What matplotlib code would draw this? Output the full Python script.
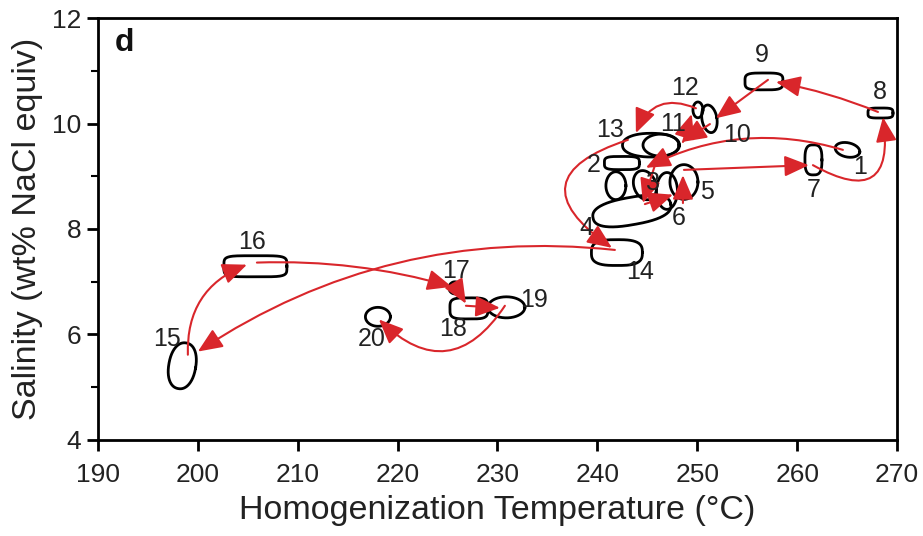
import numpy as np
import matplotlib
matplotlib.use("Agg")
import matplotlib.pyplot as plt
from matplotlib.patches import FancyArrowPatch, ArrowStyle

plt.rcParams['font.family'] = ['Liberation Sans', 'DejaVu Sans']

# ---- data: fluid-inclusion assemblage fields (centre T, centre salinity, width, height, tilt, squareness)
blob_labels = ["1", "2", "", "3", "4", "5", "6", "7", "8", "9", "10", "11", "12", "13",
               "14", "15", "16", "17", "18", "19", "20"]
blob_x = [265.03, 242.45, 241.85, 244.75, 243.45, 248.66, 246.96, 261.62, 268.33, 256.67,
          251.21, 246.36, 250.06, 245.36, 241.95, 198.45, 205.77, 225.74, 227.14, 230.89, 218.03]
blob_y = [9.50, 9.25, 8.82, 8.83, 8.34, 8.89, 8.72, 9.31, 10.20, 10.80,
          10.09, 9.59, 10.26, 9.59, 7.55, 5.40, 7.29, 6.88, 6.49, 6.51, 6.33]
blob_w = [2.5, 3.5, 2.0, 2.2, 7.9, 2.8, 2.1, 1.7, 2.5, 3.8,
          1.5, 3.6, 1.0, 5.7, 5.1, 2.7, 6.3, 1.2, 3.8, 3.7, 2.5]
blob_h = [0.27, 0.25, 0.53, 0.57, 0.52, 0.66, 0.70, 0.57, 0.19, 0.32,
          0.53, 0.42, 0.30, 0.45, 0.49, 0.88, 0.40, 0.23, 0.40, 0.40, 0.36]
blob_tilt = [-12, 0, 0, 20, 10, 0, 0, 0, 0, 0, 10, 0, 0, 0, 0, -10, 0, 0, 0, 0, 0]
blob_sq = [2, 4, 2, 2, 2.5, 2, 2, 3, 4, 4, 2, 2, 2, 2.2, 3, 2.2, 5, 2, 4, 2, 2]

# label positions of each field number
label_text = [str(i) for i in range(1, 21)]
label_x = [266.3, 239.65, 245.56, 238.85, 250.96, 248.16, 261.6, 268.3, 256.5, 253.96,
           247.56, 248.76, 241.25, 244.25, 196.9, 205.4, 225.8, 225.6, 233.7, 217.4]
label_y = [9.18, 9.21, 8.87, 8.02, 8.70, 8.21, 8.74, 10.6, 11.30, 9.78,
           9.99, 10.67, 9.88, 7.18, 5.9, 7.75, 7.2, 6.1, 6.65, 5.9]

# evolution path (arrows): start, end, curvature
arr_x0 = [264.57, 245.76, 244.75, 248.56, 248.66, 261.57, 268.08, 257.07, 251.26, 248.56,
          249.86, 243.05, 241.75, 199.01, 205.92, 225.84, 226.84, 230.74]
arr_y0 = [9.50, 9.21, 8.47, 8.49, 9.12, 9.21, 10.22, 10.83, 9.99, 9.65,
          10.29, 9.69, 7.60, 5.61, 7.36, 6.90, 6.54, 6.54]
arr_x1 = [244.85, 244.55, 247.56, 248.56, 261.17, 268.58, 257.87, 251.86, 248.46, 249.44,
          243.85, 241.45, 200.01, 204.92, 225.44, 226.84, 230.24, 218.13]
arr_y1 = [9.16, 8.49, 8.65, 9.02, 9.21, 10.12, 10.79, 10.10, 9.65, 10.18,
          9.82, 7.64, 5.67, 7.32, 6.90, 6.58, 6.50, 6.28]
arr_rad = [0.2, 0.0, 0.0, 0.0, 0.0, 1.0, 0.05, 0.0, 0.0, 0.0,
           0.5, 1.0, 0.18, -0.35, -0.08, 0.0, 0.0, -0.6]

xticks = [190, 200, 210, 220, 230, 240, 250, 260, 270]
yticks = [4, 6, 8, 10, 12]

fig = plt.figure(figsize=(9.23, 5.36), dpi=100)
ax = fig.add_axes([0.106, 0.180, 0.866, 0.786])
ax.set_xlim(190, 270)
ax.set_ylim(4, 12)
ax.set_xticks(xticks)
ax.set_yticks(yticks)
ax.set_yticks([5, 7, 9, 11], minor=True)
ax.tick_params(axis='both', which='major', length=8, width=2, labelsize=19, direction='out', colors='black')
ax.tick_params(axis='x', which='major', pad=9)
ax.tick_params(axis='y', which='major', pad=4)
ax.tick_params(axis='y', which='minor', length=5, width=1.5)
for s in ax.spines.values():
    s.set_linewidth(2)
ax.set_xlabel("Homogenization Temperature (°C)", fontsize=24.5, color='#222222', labelpad=6)
ax.set_ylabel("Salinity (wt% NaCl equiv)", fontsize=24.5, color='#222222', labelpad=6)
for lab in ax.get_xticklabels() + ax.get_yticklabels():
    lab.set_color('#222222')

# pixel scale for drawing shapes in display-proportional units
p0 = ax.transData.transform((190, 4))
p1 = ax.transData.transform((270, 12))
sx = (p1[0] - p0[0]) / 80.0
sy = (p1[1] - p0[1]) / 8.0

t = np.linspace(0, 2 * np.pi, 200)
for cx, cy, w, h, tilt, n in zip(blob_x, blob_y, blob_w, blob_h, blob_tilt, blob_sq):
    a = w * sx / 2
    b = h * sy / 2
    c, s_ = np.cos(t), np.sin(t)
    px = a * np.sign(c) * np.abs(c) ** (2.0 / n)
    py = b * np.sign(s_) * np.abs(s_) ** (2.0 / n)
    th = np.deg2rad(tilt)
    rx = px * np.cos(th) - py * np.sin(th)
    ry = px * np.sin(th) + py * np.cos(th)
    ax.plot(cx + rx / sx, cy + ry / sy, color='black', lw=2, zorder=2)

red = '#d9262b'
style = ArrowStyle("-|>", head_length=0.75, head_width=0.32)
for x0, y0, x1, y1, r in zip(arr_x0, arr_y0, arr_x1, arr_y1, arr_rad):
    ar = FancyArrowPatch((x0, y0), (x1, y1), arrowstyle=style, mutation_scale=20,
                         connectionstyle=f"arc3,rad={r}", color=red, lw=1.5,
                         shrinkA=0, shrinkB=0, zorder=3)
    ax.add_patch(ar)

for txt, x, y in zip(label_text, label_x, label_y):
    ax.text(x, y, txt, fontsize=18, ha='center', va='center', color='#222222', zorder=4)

ax.text(192.7, 11.53, "d", fontsize=23, fontweight='bold', ha='center', va='center', color='#111111')

fig.savefig("out.png", dpi=100)
